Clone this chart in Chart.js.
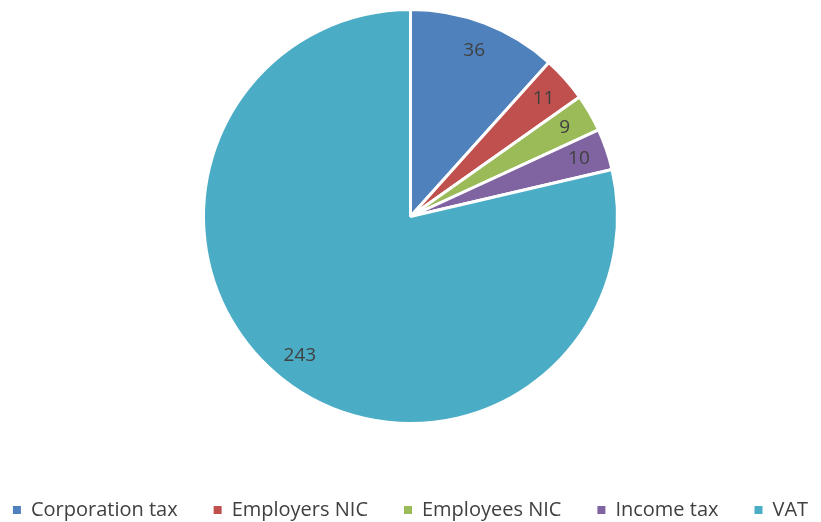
<!DOCTYPE html>
<html>
<head>
<meta charset="utf-8">
<script src="https://cdn.jsdelivr.net/npm/chart.js@4.4.1/dist/chart.umd.min.js"></script>
<style>
  html, body { margin: 0; padding: 0; background: #fff; }
  #wrap { width: 821px; height: 522px; }
</style>
</head>
<body>
<div id="wrap"><canvas id="pie"></canvas></div>
<script>
const categories = ['Corporation tax', 'Employers NIC', 'Employees NIC', 'Income tax', 'VAT'];
const values = [36, 11, 9, 10, 243];
const colours = ['#4F81BD', '#C0504D', '#9BBB59', '#8064A2', '#4BACC6'];

const FONT = '"Open Sans"';

// value labels inside each slice
const sliceLabels = {
    id: 'sliceLabels',
    afterDatasetsDraw(chart) {
        const ctx = chart.ctx;
        const meta = chart.getDatasetMeta(0);
        ctx.save();
        ctx.font = '19px ' + FONT;
        ctx.fillStyle = '#404040';
        ctx.textAlign = 'center';
        ctx.textBaseline = 'middle';
        meta.data.forEach((arc, i) => {
            const p = arc.getProps(['x', 'y', 'startAngle', 'endAngle', 'outerRadius'], true);
            const mid = (p.startAngle + p.endAngle) / 2;
            const r = p.outerRadius * 0.86;
            ctx.fillText(String(values[i]), p.x + Math.cos(mid) * r, p.y + Math.sin(mid) * r);
        });
        ctx.restore();
    }
};

new Chart(document.getElementById('pie'), {
    type: 'pie',
    data: {
        labels: categories,
        datasets: [{
            data: values,
            backgroundColor: colours,
            borderColor: '#ffffff',
            borderWidth: 3,
            radius: 207
        }]
    },
    options: {
        responsive: true,
        maintainAspectRatio: false,
        animation: false,
        // negative sides give the legend row a bit more room so it stays on one line
        layout: { padding: { top: 0, bottom: -8, left: -25, right: -25 } },
        plugins: {
            tooltip: { enabled: false },
            legend: {
                position: 'bottom',
                // empty title only used as spacer above the legend row
                title: {
                    display: true,
                    text: ' ',
                    font: { size: 10, lineHeight: 1 },
                    padding: { top: 21, bottom: 0 }
                },
                labels: {
                    boxWidth: 8,
                    boxHeight: 8,
                    padding: 36,
                    color: '#404040',
                    font: { family: FONT, size: 20 },
                    generateLabels(chart) {
                        const items = Chart.overrides.pie.plugins.legend.labels.generateLabels(chart);
                        items.forEach(it => { it.lineWidth = 0; });
                        return items;
                    }
                }
            }
        }
    },
    plugins: [sliceLabels]
});
</script>
</body>
</html>
